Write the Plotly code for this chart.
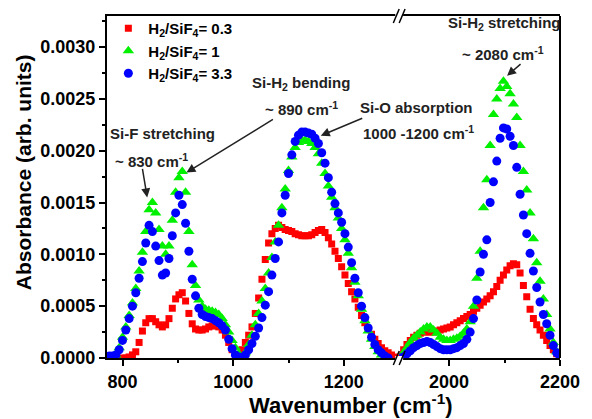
import plotly.graph_objects as go

# ---------------- data ----------------
wn_left = [776, 782, 788, 794, 800, 806, 812, 818, 824, 830, 836, 842, 848, 854, 860, 866,
           872, 878, 884, 890, 896, 902, 908, 914, 920, 926, 932, 938, 944, 950, 956, 962,
           968, 974, 980, 986, 992, 998, 1004, 1010, 1016, 1022, 1028, 1034, 1040, 1046,
           1052, 1058, 1064, 1070, 1076, 1082, 1088, 1094, 1100, 1106, 1112, 1118, 1124,
           1130, 1136, 1142, 1148, 1154, 1160, 1166, 1172, 1178, 1184, 1190, 1196, 1202,
           1208, 1214, 1220, 1226, 1232, 1238, 1244, 1250, 1256, 1262, 1268, 1274, 1280,
           1286, 1292, 1298]

wn_right = [1912, 1918, 1924, 1930, 1936, 1942, 1948, 1954, 1960, 1966, 1972, 1978, 1984,
            1990, 1996, 2002, 2008, 2014, 2020, 2026, 2032, 2038, 2044, 2050, 2056, 2062,
            2068, 2074, 2080, 2086, 2092, 2098, 2104, 2110, 2116, 2122, 2128, 2134, 2140,
            2146, 2152, 2158, 2164, 2170, 2176, 2182, 2188, 2194, 2200]

r03_left = [None, None, None, None, 0.0, 0.0, 0.00001, 0.00003, 0.00006, 0.00015, 0.00026,
            0.00034, 0.00038, 0.00038, 0.00035, 0.00032, 0.0003, 0.00032, 0.00038, 0.00048,
            0.00057, 0.00061, 0.00063, 0.00055, 0.00043, 0.00033, 0.00028, 0.00027, 0.00027,
            0.00028, 0.0003, 0.00031, 0.00031, 0.0003, 0.00027, 0.00022, 0.00015, 0.00008,
            0.00003, 0.00002, 0.00008, 0.00015, 0.00022, 0.0003, 0.00043, 0.00058, 0.00076,
            0.00095, 0.00111, 0.0012, 0.00125, 0.00128, 0.00126, 0.00124, 0.00123, 0.00122,
            0.0012, 0.00119, 0.00118, 0.00118, 0.00118, 0.00119, 0.00121, 0.00123, 0.00124,
            0.00121, 0.00116, 0.0011, 0.00103, 0.00096, 0.00088, 0.0008, 0.00072, 0.00064,
            0.00057, 0.00049, 0.00041, 0.00034, 0.00028, 0.00023, 0.00018, 0.00014, 0.0001,
            0.00007, 0.00005, 0.00003, 0.00001, 0.0]

r1_left = [None, None, 0.00003, 0.0001, 0.0002, 0.0003, 0.00041, 0.00053, 0.00067, 0.00084,
           0.00102, 0.00122, 0.00143, 0.0015, 0.0014, 0.00124, 0.00108, 0.001, 0.00108,
           0.00133, 0.0016, 0.00174, 0.0018, 0.0016, 0.00122, 0.0009, 0.0007, 0.00056, 0.0005,
           0.00047, 0.00046, 0.00045, 0.00044, 0.00042, 0.00038, 0.00032, 0.00025, 0.00017,
           0.0001, 0.00004, 0.0, 0.00005, 0.00013, 0.00022, 0.00032, 0.00043, 0.00055,
           0.00067, 0.00082, 0.00097, 0.00112, 0.00128, 0.00145, 0.00163, 0.00181, 0.00194,
           0.00203, 0.00208, 0.0021, 0.0021, 0.00209, 0.00207, 0.00203, 0.00197, 0.00188,
           0.00178, 0.00166, 0.00155, 0.00145, 0.00135, 0.00125, 0.00114, 0.00101, 0.00087,
           0.00073, 0.0006, 0.00047, 0.00036, 0.00026, 0.00018, 0.00011, 0.00006, 0.00003,
           0.00001, None, None, None, None]

r33_left = [0.00002, 0.00002, 0.00003, 0.00008, 0.00017, 0.00027, 0.00038, 0.0005, 0.00063,
            0.00077, 0.00093, 0.00111, 0.00128, 0.00122, 0.00108, 0.00094, 0.0008, 0.00082,
            0.00096, 0.00118, 0.0014, 0.00157, 0.00148, 0.0013, 0.00103, 0.00076, 0.0006,
            0.00048, 0.00042, 0.0004, 0.00039, 0.00038, 0.00036, 0.00034, 0.00031, 0.00027,
            0.00018, 0.00009, 0.00003, 0.00001, 0.0, 0.00003, 0.00008, 0.00014, 0.00021,
            0.00029, 0.00039, 0.00051, 0.00064, 0.0008, 0.00096, 0.00112, 0.0014, 0.00157,
            0.00178, 0.00196, 0.00209, 0.00215, 0.00218, 0.00218, 0.00217, 0.00216, 0.00212,
            0.00207, 0.00198, 0.00188, 0.00174, 0.0016, 0.00149, 0.0014, 0.00131, 0.0012,
            0.00107, 0.00092, 0.00077, 0.00063, 0.0005, 0.00039, 0.00029, 0.0002, 0.00013,
            0.00008, 0.00005, 0.00002, 0.0, None, None, None]

r03_right = [0.00003, 0.00008, 0.00013, 0.00017, 0.0002, 0.00022, 0.00024, 0.00025, 0.00025,
             0.00025, 0.00025, 0.00026, 0.00027, 0.00028, 0.00029, 0.0003, 0.00032, 0.00034,
             0.00036, 0.00038, 0.0004, 0.00042, 0.00045, 0.00048, 0.00051, 0.00054, 0.00057,
             0.0006, 0.00064, 0.00069, 0.00075, 0.0008, 0.00085, 0.00089, 0.00091, 0.0009,
             0.00082, 0.0007, 0.00059, 0.00047, 0.00038, 0.00032, 0.00027, 0.00022, 0.00017,
             0.00012, 0.00008, 0.00004, 0.00002]

r1_right = [0.0, 0.00005, 0.0001, 0.00015, 0.00019, 0.00022, 0.00025, 0.00028, 0.0003, 0.0003,
            0.00027, 0.00024, 0.0002, 0.00018, 0.00017, 0.00017, 0.00018, 0.00019, 0.00021,
            0.00024, 0.00028, 0.00035, 0.0005, 0.00077, 0.00103, 0.00145, 0.00172, 0.00205,
            0.00235, 0.0025, 0.0026, 0.00267, 0.00262, 0.00255, 0.00245, 0.00232, 0.00205,
            0.0018, 0.00162, 0.0014, 0.00115, 0.00092, 0.00074, 0.00057, 0.00042, 0.00028,
            0.00015, 0.00006, 0.0]

r33_right = [0.0, 0.00001, 0.00004, 0.00007, 0.0001, 0.00012, 0.00014, 0.00015, 0.00016,
             0.00015, 0.00013, 0.00011, 0.00009, 0.00008, 0.00008, 0.00008, 0.00009, 0.0001,
             0.00012, 0.00014, 0.00018, 0.00025, 0.00038, 0.00056, 0.00083, 0.001, 0.00114,
             0.0015, 0.0017, 0.0019, 0.00212, 0.00222, 0.00221, 0.00214, 0.00205, 0.00184,
             0.00158, 0.00138, 0.0012, 0.00101, 0.00084, 0.00068, 0.00054, 0.00042, 0.00033,
             0.00022, 0.00012, 0.00005, 0.0]

series_names = ["H<sub>2</sub>/SiF<sub>4</sub>= 0.3", "H<sub>2</sub>/SiF<sub>4</sub>= 1",
                "H<sub>2</sub>/SiF<sub>4</sub>= 3.3"]
x_ticks_left = [800, 1000, 1200]
x_ticks_right = [2000, 2200]
y_ticks = [0.0, 0.0005, 0.001, 0.0015, 0.002, 0.0025, 0.003]
y_tick_text = ["0.0000", "0.0005", "0.0010", "0.0015", "0.0020", "0.0025", "0.0030"]

# ---------------- styling ----------------
FONT = "Liberation Sans, Arial, sans-serif"
W, H = 592, 419
L, R, T, B = 107, 23, 15, 61
PW, PH = W - L - R, H - T - B
SPLIT = (405 - L) / PW

styles = [
    dict(symbol="square", color="#ff0000", size=7),
    dict(symbol="triangle-up", color="#00f000", size=10),
    dict(symbol="circle", color="#0000ff", size=9),
]
left_sets = [r03_left, r1_left, r33_left]
right_sets = [r03_right, r1_right, r33_right]

fig = go.Figure()
for i in range(3):
    st = styles[i]
    fig.add_trace(go.Scatter(
        x=wn_left, y=left_sets[i], mode="markers", name=series_names[i],
        marker=dict(symbol=st["symbol"], color=st["color"], size=st["size"], line=dict(width=0)),
        xaxis="x", yaxis="y", cliponaxis=True))
for i in range(3):
    st = styles[i]
    fig.add_trace(go.Scatter(
        x=wn_right, y=right_sets[i], mode="markers", name=series_names[i],
        marker=dict(symbol=st["symbol"], color=st["color"], size=st["size"], line=dict(width=0)),
        xaxis="x2", yaxis="y", showlegend=False, cliponaxis=True))

tickfont = dict(family=FONT, size=18, color="black", weight=700)
axis_common = dict(showline=True, linewidth=2, linecolor="black", mirror=True,
                   ticks="outside", ticklen=6, tickwidth=1.5, tickcolor="black",
                   showgrid=False, zeroline=False, tickfont=tickfont)


def px(xp):
    return (xp - L) / PW


def py(yp):
    return (H - B - yp) / PH


fig.update_layout(
    width=W, height=H,
    margin=dict(l=L, r=R, t=T, b=B),
    paper_bgcolor="white", plot_bgcolor="white",
    xaxis=dict(domain=[0, SPLIT], range=[772, 1300], anchor="y",
               tickvals=x_ticks_left,
               minor=dict(ticks="outside", ticklen=3, tickwidth=1.5, tickcolor="black",
                          tickvals=[900, 1100]),
               **axis_common),
    xaxis2=dict(domain=[SPLIT, 1], range=[1910, 2200], anchor="y",
                tickvals=x_ticks_right,
                minor=dict(ticks="outside", ticklen=3, tickwidth=1.5, tickcolor="black",
                           tickvals=[2100]),
                **axis_common),
    yaxis=dict(domain=[0, 1], range=[0, 0.0033], anchor="x",
               tickvals=y_ticks, ticktext=y_tick_text,
               minor=dict(ticks="outside", ticklen=3, tickwidth=1.5, tickcolor="black",
                          tickvals=[0.00025, 0.00075, 0.00125, 0.00175, 0.00225, 0.00275, 0.00325]),
               **{k: v for k, v in axis_common.items() if k != "mirror"}),
    showlegend=True,
    legend=dict(x=0.003, y=py(11), xanchor="left", yanchor="top",
                bgcolor="rgba(0,0,0,0)", borderwidth=0,
                itemsizing="trace",
                font=dict(family=FONT, size=15, color="black", weight=700)),
)

ann_font = dict(family=FONT, size=15, color="#222222", weight=700)
texts = [
    ("Si-F stretching", 164, 133),
    ("~ 830 cm<sup>-1</sup>", 152, 160),
    ("Si-H<sub>2</sub> bending", 305, 83),
    ("~ 890 cm<sup>-1</sup>", 305, 108),
    ("Si-O absorption", 423, 107),
    ("1000 -1200 cm<sup>-1</sup>", 425, 132),
    ("Si-H<sub>2</sub> stretching", 512, 23),
    ("~ 2080 cm<sup>-1</sup>", 511, 53),
]
for t, x, y in texts:
    fig.add_annotation(text=t, x=px(x), y=py(y), xref="paper", yref="paper",
                       showarrow=False, font=ann_font, xanchor="center", yanchor="middle")

arrows = [
    ((148, 197), (143, 167)),
    ((188, 172), (276, 118)),
    ((325, 135), (368, 117)),
    ((515, 75), (530, 62)),
]
for (tx, ty), (sx, sy) in arrows:
    fig.add_annotation(x=px(tx), y=py(ty), xref="paper", yref="paper", text="",
                       showarrow=True, arrowhead=2, arrowsize=1.2, arrowwidth=1.5,
                       arrowcolor="#222222", ax=sx - tx, ay=sy - ty)

# axis titles
fig.add_annotation(text="Wavenumber (cm<sup>-1</sup>)", x=px(356), y=py(419.5), xref="paper",
                   yref="paper", showarrow=False, xanchor="center", yanchor="bottom",
                   borderpad=0,
                   font=dict(family=FONT, size=22, color="black", weight=700))
fig.add_annotation(text="Absorbance (arb. units)", x=px(22), y=py(172), xref="paper",
                   yref="paper", showarrow=False, xanchor="center", yanchor="middle",
                   textangle=-90,
                   font=dict(family=FONT, size=21, color="black", weight=700))

# right frame line
fig.add_shape(type="line", xref="paper", yref="paper", x0=1, x1=1, y0=0, y1=1,
              line=dict(color="black", width=2))

# axis break marks
bx = SPLIT
dx = 1 / PW
dy = 1 / PH
for yb in (0, 1):
    fig.add_shape(type="rect", xref="paper", yref="paper",
                  x0=bx - 4 * dx, x1=bx + 4 * dx, y0=yb - 2 * dy, y1=yb + 2 * dy,
                  fillcolor="white", line=dict(width=0), layer="above")
    for off in (-3, 3):
        fig.add_shape(type="line", xref="paper", yref="paper",
                      x0=bx + (off - 3) * dx, y0=yb - 7 * dy,
                      x1=bx + (off + 3) * dx, y1=yb + 7 * dy,
                      line=dict(color="black", width=1.5), layer="above")

fig.write_html("out.html")
